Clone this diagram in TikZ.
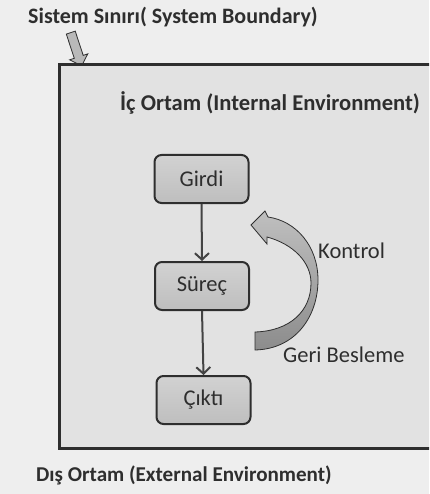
\documentclass[tikz,border=0pt]{standalone}
\usepackage{fontspec}
\setmainfont{Carlito}
\usetikzlibrary{arrows.meta,shapes.arrows}

\definecolor{paper}{HTML}{EEEEEE}
\definecolor{panel}{HTML}{E2E2E2}
\definecolor{ink}{HTML}{2E2E2E}
\definecolor{edge}{HTML}{2E2E2E}
\definecolor{boxtop}{HTML}{D2D2D2}
\definecolor{boxbot}{HTML}{BEBEBE}

\tikzset{
  heading/.style={font=\bfseries\fontsize{22}{26}\selectfont, text=ink, inner sep=0pt},
  stepbox/.style={draw=edge, line width=2pt, rounded corners=7pt,
    top color=boxtop, bottom color=boxbot,
    minimum width=94pt, minimum height=48pt, inner sep=0pt,
    font=\fontsize{22.5}{26}\selectfont, text=ink},
  flow/.style={draw=edge!90, line width=2pt,
    -{Straight Barb[length=6.5pt,width=14pt,line width=2pt]}},
  sidelabel/.style={font=\fontsize{22.5}{26}\selectfont, text=ink, inner sep=0pt},
}

\begin{document}
\begin{tikzpicture}[x=1pt,y=-1pt]
  % page
  \useasboundingbox (0,0) rectangle (429,494);
  \clip (0,0) rectangle (429,494);
  \fill[paper] (0,0) rectangle (429,494);

  % system boundary
  \node[heading, anchor=base west] (boundary) at (28,24) {Sistem Sınırı( System Boundary)};
  \node[single arrow, draw=edge, line width=0.8pt, fill=gray!55,
        minimum height=35pt, minimum width=19pt, inner sep=4pt,
        single arrow head extend=4.5pt, rotate=-71.8] (pointer) at (75.5,47) {};

  % internal environment panel (runs past the right edge)
  \draw[edge, line width=3pt, fill=panel] (59,65) rectangle (445,448);
  \node[heading, font=\bfseries\fontsize{22.6}{26}\selectfont, anchor=base west]
    (internal) at (120,111) {İç Ortam (Internal Environment)};

  % process chain
  \node[stepbox] (girdi) at (201.5,179) {Girdi};
  \node[stepbox] (surec) at (202,286) {Süreç};
  \node[stepbox] (cikti) at (203.5,400) {Çıktı};
  \draw[flow] (girdi.south) -- (surec.north);
  \draw[flow] (surec.south) -- (cikti.north);

  % feedback arrow
  \path[draw=edge, line width=0.8pt, top color=gray!50, bottom color=gray!90]
    (255,350) .. controls (296,349) and (318,316) .. (318,280)
              .. controls (318,246) and (296,221) .. (268,217)
    -- (265,211) -- (251,225) -- (267,244) -- (267,237)
              .. controls (293,244) and (311,262) .. (311,283)
              .. controls (311,311) and (290,331) .. (255,332) -- cycle;
  \node[sidelabel, anchor=base west] (kontrol) at (318,258) {Kontrol};
  \node[sidelabel, anchor=base west] (geri) at (283,362) {Geri Besleme};

  % external environment
  \node[heading, font=\bfseries\fontsize{21.1}{25}\selectfont, anchor=base west]
    (external) at (36,481) {Dış Ortam (External Environment)};
\end{tikzpicture}
\end{document}
